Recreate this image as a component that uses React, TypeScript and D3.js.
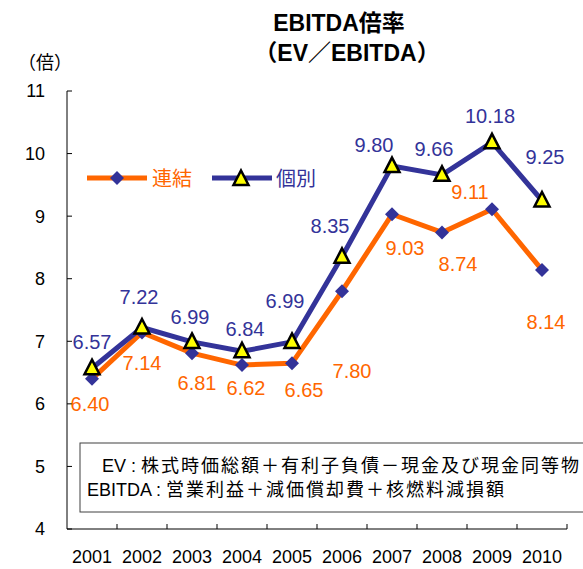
import { useMemo } from "react";
import * as d3 from "d3";

const years = ["2001", "2002", "2003", "2004", "2005", "2006", "2007", "2008", "2009", "2010"];
const consolidated = [6.4, 7.14, 6.81, 6.62, 6.65, 7.8, 9.03, 8.74, 9.11, 8.14];
const standalone = [6.57, 7.22, 6.99, 6.84, 6.99, 8.35, 9.8, 9.66, 10.18, 9.25];
const yTicks = [4, 5, 6, 7, 8, 9, 10, 11];
const seriesNames = ["連結", "個別"];
const noteLines = [
  ["EV : ", "株式時価総額＋有利子負債－現金及び現金同等物"],
  ["EBITDA : ", "営業利益＋減価償却費＋核燃料減損額"],
];

// where each value label sits relative to its point (label centre)
const consolidatedLabelOffsets = [
  [-2, 25], [0, 30], [5, 30], [4, 23], [12, 27], [10, 80], [13, 34], [16, 31], [-22, -17], [4, 52],
];
const standaloneLabelOffsets = [
  [0, -26], [-3, -31], [-2, -25], [3, -22], [-7, -41], [-12, -31], [-18, -21], [-8, -26], [-2, -27], [3, -44],
];

const ORANGE = "#FF6600";
const NAVY = "#333399";
const FONT = "'Liberation Sans', Arial, 'Noto Sans CJK JP', sans-serif";
const CJK = "'Noto Sans CJK JP', sans-serif";

const W = 583;
const H = 569;

function diamond(cx: number, cy: number, r = 7) {
  return `M${cx},${cy - r}L${cx + r},${cy}L${cx},${cy + r}L${cx - r},${cy}Z`;
}

function triangle(cx: number, cy: number) {
  return `M${cx},${cy - 8.5}L${cx + 7.5},${cy + 6}L${cx - 7.5},${cy + 6}Z`;
}

export default function App() {
  const x = useMemo(
    () => d3.scaleBand<string>().domain(years).range([67, 567]),
    []
  );
  const y = useMemo(() => d3.scaleLinear().domain([4, 11]).range([529, 91]), []);
  const cx = (i: number) => (x(years[i]) ?? 0) + x.bandwidth() / 2;

  const line = d3
    .line<number>()
    .x((_, i) => cx(i))
    .y((d) => y(d));

  const boundaries = years.map((yr) => (x(yr) ?? 0) + x.bandwidth());

  return (
    <svg
      width={W}
      height={H}
      style={{ position: "absolute", left: 0, top: 0, background: "#fff" }}
      fontFamily={FONT}
    >
      {/* title */}
      <text x={339} y={31} textAnchor="middle" fontSize={23} fontWeight="bold">
        EBITDA倍率
      </text>
      <text x={347} y={61} textAnchor="middle" fontSize={23} fontWeight="bold">
        （EV／EBITDA）
      </text>
      <text x={45} y={69} textAnchor="middle" fontSize={18}>
        （倍）
      </text>

      {/* y axis */}
      <line x1={67} x2={67} y1={y(11)} y2={y(4)} stroke="#000" />
      {yTicks.map((t) => (
        <g key={t}>
          <line x1={67} x2={72} y1={y(t)} y2={y(t)} stroke="#000" />
          <text x={45} y={y(t)} dy="0.36em" textAnchor="end" fontSize={18}>
            {t}
          </text>
        </g>
      ))}

      {/* x axis */}
      <line x1={67} x2={567} y1={y(4)} y2={y(4)} stroke="#000" />
      {boundaries.map((bx, i) => (
        <line key={i} x1={bx} x2={bx} y1={y(4)} y2={y(4) - 5} stroke="#000" />
      ))}
      {years.map((yr, i) => (
        <text key={yr} x={cx(i)} y={563} textAnchor="middle" fontSize={18}>
          {yr}
        </text>
      ))}

      {/* note box */}
      <rect x={80} y={443} width={520} height={69} fill="#fff" stroke="#404040" />
      {noteLines.map(([head, body], i) => (
        <text key={i} x={i === 0 ? 102 : 87} y={472 + i * 24} fontSize={18}>
          <tspan>{head}</tspan>
          <tspan fontFamily={CJK} letterSpacing={2}>
            {body}
          </tspan>
        </text>
      ))}

      {/* lines */}
      <path d={line(consolidated) ?? ""} fill="none" stroke={ORANGE} strokeWidth={5} strokeLinejoin="round" />
      <path d={line(standalone) ?? ""} fill="none" stroke={NAVY} strokeWidth={5} strokeLinejoin="round" />
      {consolidated.map((v, i) => (
        <path key={`d${i}`} d={diamond(cx(i), y(v))} fill={NAVY} />
      ))}
      {standalone.map((v, i) => (
        <path key={`t${i}`} d={triangle(cx(i), y(v))} fill="#FFFF00" stroke="#000" strokeWidth={2.5} />
      ))}

      {/* value labels */}
      {consolidated.map((v, i) => (
        <text
          key={`cl${i}`}
          x={cx(i) + consolidatedLabelOffsets[i][0]}
          y={y(v) + consolidatedLabelOffsets[i][1]}
          dy="0.36em"
          textAnchor="middle"
          fontSize={20}
          fill={ORANGE}
        >
          {v.toFixed(2)}
        </text>
      ))}
      {standalone.map((v, i) => (
        <text
          key={`sl${i}`}
          x={cx(i) + standaloneLabelOffsets[i][0]}
          y={y(v) + standaloneLabelOffsets[i][1]}
          dy="0.36em"
          textAnchor="middle"
          fontSize={20}
          fill={NAVY}
        >
          {v.toFixed(2)}
        </text>
      ))}

      {/* legend */}
      <line x1={87} x2={147} y1={178} y2={178} stroke={ORANGE} strokeWidth={5} />
      <path d={diamond(117, 178)} fill={NAVY} />
      <text x={152} y={186} fontSize={20} fill={ORANGE} fontFamily={CJK}>
        {seriesNames[0]}
      </text>
      <line x1={212} x2={272} y1={178} y2={178} stroke={NAVY} strokeWidth={5} />
      <path d={triangle(241, 179)} fill="#FFFF00" stroke="#000" strokeWidth={2.5} />
      <text x={276} y={186} fontSize={20} fill={NAVY} fontFamily={CJK}>
        {seriesNames[1]}
      </text>
    </svg>
  );
}
